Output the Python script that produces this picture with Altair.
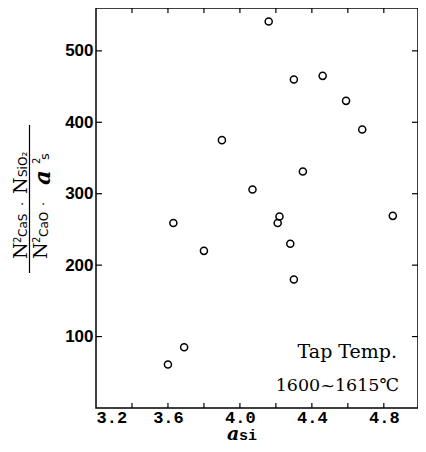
import altair as alt
import pandas as pd

# Data
a_si = [4.16, 4.30, 4.46, 4.59, 4.68, 3.90, 4.35, 4.07, 3.63, 4.22, 4.21, 4.85, 3.80, 4.28, 4.30, 3.69, 3.60]
ratio = [541, 460, 465, 430, 390, 375, 331, 306, 259, 268, 259, 269, 220, 230, 180, 85, 61]

x_label_values = [3.2, 3.6, 4.0, 4.4, 4.8]
x_tick_values = [3.4, 3.6, 3.8, 4.0, 4.2, 4.4, 4.6, 4.8]
y_tick_values = [100, 200, 300, 400, 500]

W, H = 322, 400

df = pd.DataFrame({"a_si": a_si, "ratio": ratio})
xt = pd.DataFrame({"v": x_tick_values})
yt = pd.DataFrame({"v": y_tick_values})
one = pd.DataFrame({"k": [0]})

xs = alt.Scale(domain=[3.2, 4.99], nice=False, zero=False)
ys = alt.Scale(domain=[0, 560], nice=False, zero=False)

points = alt.Chart(df).mark_point(shape="circle", filled=False, color="black", size=50,
                                  strokeWidth=1.5, opacity=1).encode(
    x=alt.X("a_si:Q", scale=xs, axis=alt.Axis(
        orient="bottom", values=x_label_values, format=".1f", ticks=False, tickSize=0,
        domain=False, grid=False, labelFont="Liberation Mono", labelFontWeight="bold",
        labelFontSize=17, labelPadding=1, labelColor="black", title=None)),
    y=alt.Y("ratio:Q", scale=ys, axis=alt.Axis(
        orient="left", values=y_tick_values, ticks=False, tickSize=0, domain=False,
        grid=False, labelFont="Liberation Sans", labelFontWeight="bold",
        labelFontSize=17, labelPadding=3, labelColor="black", title=None)),
)

TK = dict(color="black", strokeWidth=1.2)
tick_bottom = alt.Chart(xt).mark_rule(**TK).encode(
    x=alt.X("v:Q", scale=xs, axis=None), y=alt.value(H), y2=alt.value(H - 5))
tick_top = alt.Chart(xt).mark_rule(**TK).encode(
    x=alt.X("v:Q", scale=xs, axis=None), y=alt.value(0), y2=alt.value(5))
tick_left = alt.Chart(yt).mark_rule(**TK).encode(
    y=alt.Y("v:Q", scale=ys, axis=None), x=alt.value(0), x2=alt.value(6))
tick_right = alt.Chart(yt).mark_rule(**TK).encode(
    y=alt.Y("v:Q", scale=ys, axis=None), x=alt.value(W), x2=alt.value(W - 6))


def txt(s, x, y, font, size, angle=0, align="left", weight="normal", style="normal"):
    return alt.Chart(one).mark_text(
        text=s, font=font, fontSize=size, angle=angle, align=align,
        baseline="alphabetic", color="black", fontWeight=weight, fontStyle=style,
    ).encode(x=alt.value(x), y=alt.value(y))


SERIF = "DejaVu Serif"
SANS = "DejaVu Sans"

ylabel = [
    # numerator
    txt("N", -69, 251, SERIF, 19, 270),
    txt("2", -75, 235, SANS, 10, 270),
    txt("CaS", -69, 229, SANS, 12, 270),
    txt("·", -69, 196, SANS, 13, 270, align="center"),
    txt("N", -69, 186, SERIF, 19, 270),
    txt("SiO₂", -69, 169, SANS, 12, 270),
    # denominator
    txt("N", -49, 251, SERIF, 19, 270),
    txt("2", -56, 235, SANS, 10, 270),
    txt("CaO", -48, 229, SANS, 12, 270),
    txt("·", -48, 196, SANS, 13, 270, align="center"),
    txt("a", -46, 177, SERIF, 23, 270, weight="bold", style="italic"),
    txt("2", -56, 156, SANS, 10, 270),
    txt("s", -47, 152, SANS, 13, 270),
]

frac_line = alt.Chart(one).mark_rule(color="black", strokeWidth=1.2).encode(
    x=alt.value(-66.5), y=alt.value(117), y2=alt.value(265))

xlabel = [
    txt("a", 131, 431.5, SERIF, 19, weight="bold", style="italic"),
    txt("si", 143, 431.5, "Liberation Mono", 15, weight="bold"),
]

notes = [
    txt("Tap Temp.", 301, 350, SERIF, 19, align="right"),
    txt("1600~1615℃", 303, 383, SERIF, 17.5, align="right"),
]

chart = alt.layer(
    points, tick_bottom, tick_top, tick_left, tick_right, frac_line,
    *ylabel, *xlabel, *notes
).resolve_axis(
    x="independent", y="independent"
).properties(
    width=W, height=H,
    autosize=alt.AutoSizeParams(type="none"),
    padding={"left": 88, "top": 0, "right": 0, "bottom": 36},
).configure_view(stroke="black", strokeWidth=1.5)

chart.save("out.html", embed_options={"renderer": "svg", "actions": False})
